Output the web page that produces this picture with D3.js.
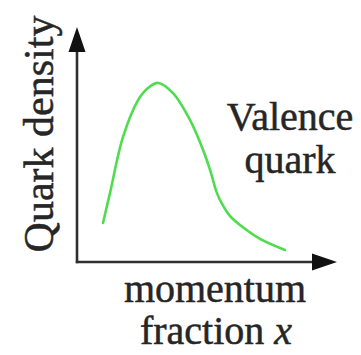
<!DOCTYPE html>
<html>
<head>
<meta charset="utf-8">
<script src="https://cdn.jsdelivr.net/npm/d3@7"></script>
<style>
  html, body { margin: 0; padding: 0; background: #fff; }
  svg { display: block; }
  text { font-family: "Liberation Serif", "Times New Roman", serif; fill: #262626; stroke: #262626; stroke-width: 0.5; }
</style>
</head>
<body>
<svg id="chart" width="361" height="355"></svg>
<script>
// Valence quark density vs. momentum fraction (schematic, arbitrary units)
const momentumFraction = [0.10, 0.127, 0.177, 0.235, 0.273, 0.312, 0.369, 0.435, 0.485, 0.512, 0.538, 0.558, 0.588, 0.627, 0.704, 0.800];
const quarkDensity     = [0.166, 0.294, 0.532, 0.689, 0.740, 0.762, 0.719, 0.604, 0.477, 0.391, 0.294, 0.247, 0.196, 0.157, 0.098, 0.051];

const yTitle = "Quark density";
const xTitleLines = ["momentum", "fraction "];
const xSymbol = "x";
const curveLabelLines = ["Valence", "quark"];

const svg = d3.select("#chart");

const x = d3.scaleLinear().domain([0, 1]).range([77, 337]);
const y = d3.scaleLinear().domain([0, 1]).range([262, 27]);

const axisColor = "#2f2f2f";

// axis lines with arrowheads
const arrowLen = 25, arrowHalf = 8.5;
svg.append("line")
  .attr("x1", x(0) - 1.2).attr("x2", x(1) - arrowLen + 2)
  .attr("y1", y(0)).attr("y2", y(0))
  .attr("stroke", axisColor).attr("stroke-width", 2.6);
svg.append("line")
  .attr("x1", x(0)).attr("x2", x(0))
  .attr("y1", y(0) + 1.2).attr("y2", y(1) + arrowLen - 2)
  .attr("stroke", axisColor).attr("stroke-width", 2.6);

svg.append("path")
  .attr("d", `M${x(1)},${y(0)} L${x(1) - arrowLen},${y(0) - arrowHalf} L${x(1) - arrowLen},${y(0) + arrowHalf} Z`)
  .attr("fill", "#111");
svg.append("path")
  .attr("d", `M${x(0)},${y(1)} L${x(0) - arrowHalf},${y(1) + arrowLen} L${x(0) + arrowHalf},${y(1) + arrowLen} Z`)
  .attr("fill", "#111");

// density curve
const pts = momentumFraction.map((v, i) => [v, quarkDensity[i]]);
const line = d3.line()
  .x(d => x(d[0]))
  .y(d => y(d[1]))
  .curve(d3.curveCatmullRom.alpha(0.5));

svg.append("path")
  .datum(pts)
  .attr("d", line)
  .attr("fill", "none")
  .attr("stroke", "#4fdc4f")
  .attr("stroke-width", 2.6)
  .attr("stroke-linecap", "round")
  .attr("stroke-linejoin", "round");

// titles
svg.append("text")
  .attr("transform", "translate(53,134) rotate(-90)")
  .attr("text-anchor", "middle")
  .attr("font-size", 42)
  .text(yTitle);

svg.append("text")
  .attr("x", 215).attr("y", 302)
  .attr("text-anchor", "middle")
  .attr("font-size", 40)
  .text(xTitleLines[0]);

const t2 = svg.append("text")
  .attr("x", 216).attr("y", 344)
  .attr("text-anchor", "middle")
  .attr("font-size", 40);
t2.append("tspan").text(xTitleLines[1]);
t2.append("tspan").attr("font-style", "italic").text(xSymbol);

curveLabelLines.forEach((s, i) => {
  svg.append("text")
    .attr("x", 290).attr("y", 130 + i * 43)
    .attr("text-anchor", "middle")
    .attr("font-size", 40)
    .text(s);
});
</script>
</body>
</html>
